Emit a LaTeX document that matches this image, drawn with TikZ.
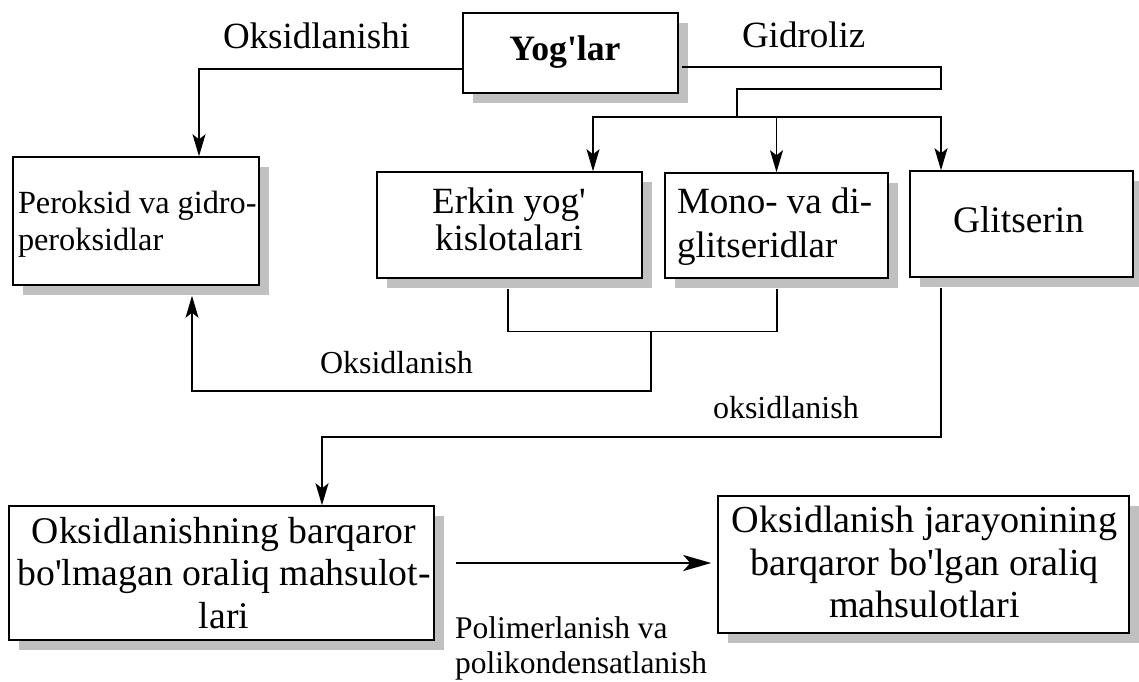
\documentclass[tikz,border=0pt]{standalone}
\usepackage{fontspec}
\setmainfont{Liberation Serif}
\usetikzlibrary{arrows.meta,shadows,calc}
\definecolor{shadowgray}{RGB}{192,192,192}
\newcommand\fsz[2]{\fontsize{#1}{#2}\selectfont}
\newcommand\apo{\textquotesingle}
\tikzset{
  box/.style={draw, line width=1.5pt, fill=white, inner sep=0pt,
    drop shadow={shadow xshift=10pt, shadow yshift=-10pt, fill=shadowgray, opacity=1}},
  conn/.style={line width=1.4pt},
  arr/.style={conn, -{Stealth[length=22pt,width=13pt,inset=5pt]}},
  bigarr/.style={line width=2.6pt, -{Stealth[length=28pt,width=16pt,inset=7pt]}},
  txt/.style={inner sep=0pt, outer sep=0pt},
}
\begin{document}
\begin{tikzpicture}[x=1pt,y=-1pt]
\useasboundingbox (0,0) rectangle (1139,681);

% boxes
\node[box, minimum width=215pt, minimum height=80pt] (yog) at (570.5,53) {};
\node[box, minimum width=246pt, minimum height=128pt] (per) at (136,221) {};
\node[box, minimum width=265pt, minimum height=106pt] (erk) at (509.5,225) {};
\node[box, minimum width=223pt, minimum height=105pt] (mono) at (776.5,225.5) {};
\node[box, minimum width=223pt, minimum height=106pt] (gli) at (1021.5,224) {};
\node[box, minimum width=425pt, minimum height=134pt] (bl) at (221.5,573) {};
\node[box, minimum width=411pt, minimum height=137pt] (br) at (923.5,564.5) {};

% box texts
\node[txt, anchor=north, font=\fsz{35.7}{42}\bfseries] (yogt) at (565,35.6) {Yog\apo lar};
\node[txt, anchor=north west, align=left, font=\fsz{32.3}{37}] (pert) at (18,191) {Peroksid va gidro-\\peroksidlar};
\node[txt, anchor=north, align=center, font=\fsz{37}{37}] (erkt) at (509,187.7) {Erkin yog\apo\\kislotalari};
\node[txt, anchor=north west, align=left, font=\fsz{37}{44}] (monot) at (677,187.7) {Mono- va di-\\glitseridlar};
\node[txt, anchor=north, font=\fsz{37.4}{44}] (glit) at (1018.5,206.5) {Glitserin};
\node[txt, anchor=north, align=center, font=\fsz{37.7}{42.5}] (blt) at (224,517.3) {Oksidlanishning barqaror\\bo\apo lmagan oraliq mahsulot-\\lari};
\node[txt, anchor=north, align=center, font=\fsz{38.2}{42.5}] (brt) at (924.5,506) {Oksidlanish jarayonining\\barqaror bo\apo lgan oraliq\\mahsulotlari};

% labels
\node[txt, anchor=base west, font=\fsz{37}{44}] (l1) at (223,48) {Oksidlanishi};
\node[txt, anchor=base west, font=\fsz{37}{44}] (l2) at (742,47) {Gidroliz};
\node[txt, anchor=base west, font=\fsz{32}{38}] (l3) at (320,373) {Oksidlanish};
\node[txt, anchor=base west, font=\fsz{32}{38}] (l4) at (713,418) {oksidlanish};
\node[txt, anchor=north west, align=left, font=\fsz{31.5}{35}] (l5) at (455,616.5) {Polimerlanish va\\polikondensatlanish};

% Yog'lar -> Peroksid
\draw[arr] ($(yog.west)+(0,16)$) -| ($(per.north)+(63,0)$);

% Gidroliz
\coordinate (gR) at (941,89);
\coordinate (gJ) at (737,89);
\coordinate (bus) at (737,117);
\draw[conn] ($(yog.east)+(3,14)$) -| (gR) -- (gJ) -- (bus);
\draw[arr] (bus) -| ($(erk.north)+(83.5,0)$);
\draw[arr] (bus) -| ($(gli.north)+(-80.5,0)$);
\draw[arr] (bus -| mono.north) -- (mono.north);

% Erkin + Mono -> Peroksid
\coordinate (mj) at (651,331);
\coordinate (mb) at (651,391);
\draw[conn] ($(erk.south)+(-1.5,10)$) |- ($(mono.south)+(0.5,53)$) -- ($(mono.south)+(0.5,10)$);
\draw[arr] (mj) -- (mb) -| ($(per.south)+(56,10)$);

% Glitserin -> bottom left
\coordinate (gb) at (941,437);
\draw[arr] ($(gli.south)+(-80.5,10)$) -- (gb) -| ($(bl.north)+(100.5,0)$);

% bottom arrow
\draw[bigarr] ($(bl.east)+(21,-10)$) -- ($(br.west)+(-6,-1.5)$);
\end{tikzpicture}
\end{document}
